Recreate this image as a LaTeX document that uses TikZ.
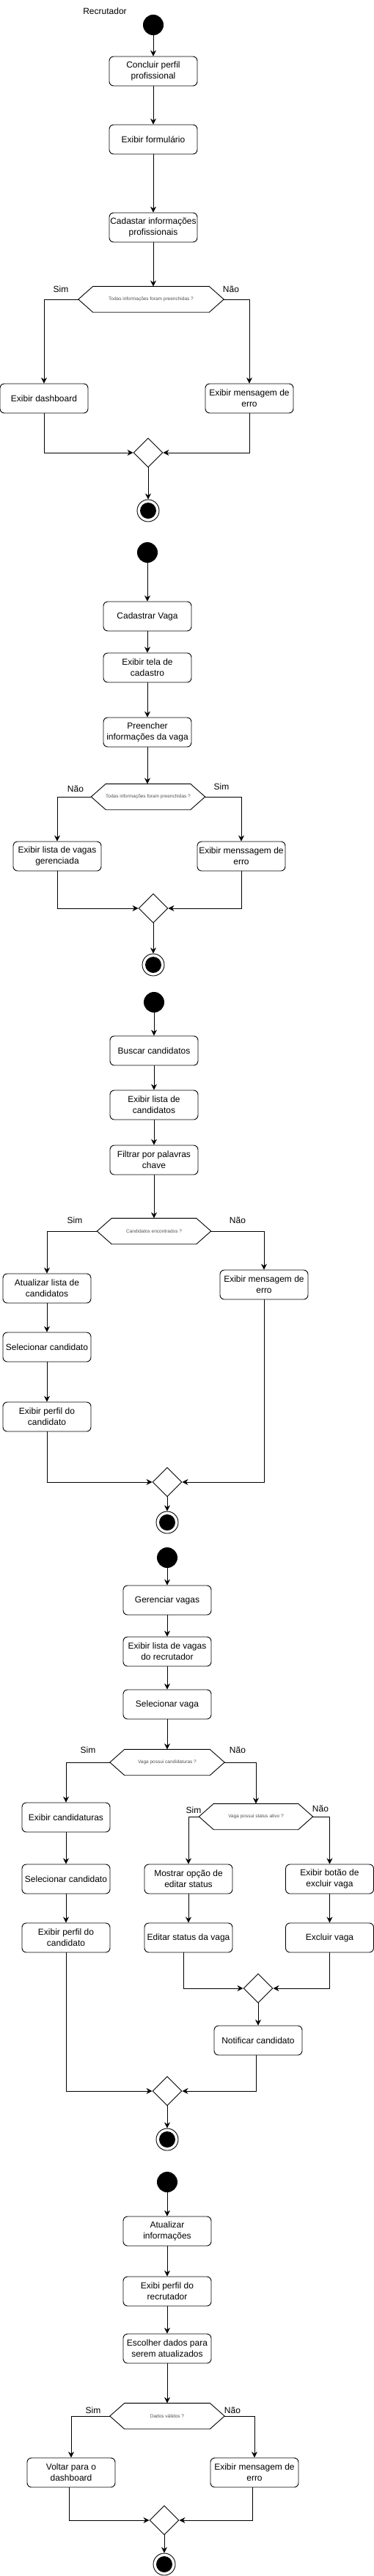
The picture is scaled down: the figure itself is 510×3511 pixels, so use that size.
\documentclass[tikz,border=0pt]{standalone}
\usepackage{fontspec}
\setmainfont{Liberation Sans}
\usetikzlibrary{shapes.geometric,arrows.meta}
\definecolor{hextext}{RGB}{80,80,80}
\newcommand\drawhexagon[1]{\draw[line width=0.9pt] (#1.west) -- ([xshift=20pt]#1.north west) -- ([xshift=-20pt]#1.north east) -- (#1.east) -- ([xshift=-20pt]#1.south east) -- ([xshift=20pt]#1.south west) -- cycle;}
\begin{document}
\begin{tikzpicture}[x=1pt,y=-1pt,
 box/.style={draw, rounded corners=6pt, minimum width=120pt, minimum height=40pt, align=center, inner sep=1pt, font=\fontsize{12}{15}\selectfont, line width=0.9pt},
 hexa/.style={minimum height=35pt, minimum width=#1, inner sep=0pt, font=\fontsize{6.5}{8}\selectfont, text=hextext},
 startst/.style={circle, fill=black, minimum size=28pt, inner sep=0pt},
 endst/.style={circle, draw, line width=0.9pt, minimum size=30pt, inner sep=0pt, path picture={\fill[black] (path picture bounding box.center) circle (11pt);}},
 merge/.style={diamond, draw, minimum width=40pt, minimum height=40pt, inner sep=0pt, line width=0.9pt},
 lbl/.style={font=\fontsize{12}{15}\selectfont, inner sep=0pt},
 arr/.style={-{Stealth[length=8pt,width=8pt]}, line width=0.9pt},
]
\useasboundingbox (0,0) rectangle (510,3511);

% ---------- Section 1 ----------
\node[lbl] (rec) at (143,15) {Recrutador};
\node[startst] (s1) at (209,34) {};
\node[box] (a1) at (209,97) {Concluir perfil\\profissional};
\node[box] (a2) at (209,190) {Exibir formulário};
\node[box] (a3) at (209,310) {Cadastar informações\\profissionais};
\node[hexa=198pt] (h1) at (206,408) {Todas informações foram preenchidas ?};
\drawhexagon{h1}
\node[lbl] (l1s) at (83,394) {Sim};
\node[lbl] (l1n) at (315,394) {Não};
\node[box] (b1) at (60,543) {Exibir dashboard};
\node[box] (b2) at (340,543) {Exibir mensagem de\\erro};
\node[merge] (d1) at (202,617) {};
\node[endst] (e1) at (202,696) {};
\draw[arr] (s1) -- (a1);
\draw[arr] (a1) -- (a2);
\draw[arr] (a2) -- (a3);
\draw[arr] (a3.south) -- (a3.south |- h1.north);
\draw[arr] (h1.west) -| (b1.north);
\draw[arr] (h1.east) -| (b2.north);
\draw[arr] (b1.south) |- (d1.west);
\draw[arr] (b2.south) |- (d1.east);
\draw[arr] (d1) -- (e1);

% ---------- Section 2 ----------
\node[startst] (s2) at (201,753) {};
\node[box] (c1) at (201,840) {Cadastrar Vaga};
\node[box] (c2) at (201,910) {Exibir tela de\\cadastro};
\node[box] (c3) at (201,998) {Preencher\\informações da vaga};
\node[hexa=155pt] (h2) at (202,1086) {Todas informações foram preenchidas ?};
\drawhexagon{h2}
\node[lbl] (l2n) at (103,1075) {Não};
\node[lbl] (l2s) at (302,1072) {Sim};
\node[box] (f1) at (78,1167) {Exibir lista de vagas\\gerenciada};
\node[box] (f2) at (329,1167) {Exibir menssagem de\\erro};
\node[merge] (d2) at (209,1238) {};
\node[endst] (e2) at (209,1315) {};
\draw[arr] (s2) -- (c1);
\draw[arr] (c1) -- (c2);
\draw[arr] (c2) -- (c3);
\draw[arr] (c3.south) -- (c3.south |- h2.north);
\draw[arr] (h2.west) -| (f1.north);
\draw[arr] (h2.east) -| (f2.north);
\draw[arr] (f1.south) |- (d2.west);
\draw[arr] (f2.south) |- (d2.east);
\draw[arr] (d2) -- (e2);

% ---------- Section 3 ----------
\node[startst] (s3) at (210,1366) {};
\node[box] (g1) at (210,1432) {Buscar candidatos};
\node[box] (g2) at (210,1506) {Exibir lista de\\candidatos};
\node[box] (g3) at (210,1581) {Filtrar por palavras\\chave};
\node[hexa=155pt] (h3) at (210,1678) {Candidatos encontrados ?};
\drawhexagon{h3}
\node[lbl] (l3s) at (102,1663) {Sim};
\node[lbl] (l3n) at (324,1663) {Não};
\node[box] (k1) at (64,1756) {Atualizar lista de\\candidatos};
\node[box] (k2) at (64,1836) {Selecionar candidato};
\node[box] (k3) at (64,1931) {Exibir perfil do\\candidato};
\node[box] (k4) at (360,1751) {Exibir mensagem de\\erro};
\node[merge] (d3) at (228,2020) {};
\node[endst] (e3) at (228,2075) {};
\draw[arr] (s3) -- (g1);
\draw[arr] (g1) -- (g2);
\draw[arr] (g2) -- (g3);
\draw[arr] (g3) -- (h3);
\draw[arr] (h3.west) -| (k1.north);
\draw[arr] (h3.east) -| (k4.north);
\draw[arr] (k1) -- (k2);
\draw[arr] (k2) -- (k3);
\draw[arr] (k3.south) |- (d3.west);
\draw[arr] (k4.south) |- (d3.east);
\draw[arr] (d3) -- (e3);

% ---------- Section 4 ----------
\node[startst] (s4) at (228,2123) {};
\node[box] (m1) at (228,2181) {Gerenciar vagas};
\node[box] (m2) at (228,2251) {Exibir lista de vagas\\do recrutador};
\node[box] (m3) at (228,2323) {Selecionar vaga};
\node[hexa=156pt] (h4) at (228,2402) {Vaga possui candidaturas ?};
\drawhexagon{h4}
\node[lbl] (l4s) at (120,2385) {Sim};
\node[lbl] (l4n) at (324,2385) {Não};
\node[box] (n1) at (90,2477) {Exibir candidaturas};
\node[box] (n2) at (90,2561) {Selecionar candidato};
\node[box] (n3) at (90,2641) {Exibir perfil do\\candidato};
\node[hexa=155pt] (h5) at (349,2476) {Vaga possui status ativo ?};
\drawhexagon{h5}
\node[lbl] (l5s) at (264,2467) {Sim};
\node[lbl] (l5n) at (437,2465) {Não};
\node[box] (p1) at (257,2561) {Mostrar opção de\\editar status};
\node[box] (p2) at (257,2641) {Editar status da vaga};
\node[box] (q1) at (449.5,2561) {Exibir botão de\\excluir vaga};
\node[box] (q2) at (449.5,2641) {Excluir vaga};
\node[merge] (d4) at (352,2710) {};
\node[box] (r1) at (352,2781) {Notificar candidato};
\node[merge] (d5) at (228,2850) {};
\node[endst] (e4) at (228,2916) {};
\draw[arr] (s4) -- (m1);
\draw[arr] (m1) -- (m2);
\draw[arr] (m2) -- (m3);
\draw[arr] (m3) -- (h4);
\draw[arr] (h4.west) -| (n1.north);
\draw[arr] (h4.east) -| (h5.north);
\draw[arr] (n1) -- (n2);
\draw[arr] (n2) -- (n3);
\draw[arr] (h5.west) -| (p1.north);
\draw[arr] (h5.east) -| (q1.north);
\draw[arr] (p1) -- (p2);
\draw[arr] (q1) -- (q2);
\draw[arr] ([xshift=-7pt]p2.south) |- (d4.west);
\draw[arr] (q2.south) |- (d4.east);
\draw[arr] (d4) -- (r1);
\draw[arr] ([xshift=-3pt]r1.south) |- (d5.east);
\draw[arr] (n3.south) |- (d5.west);
\draw[arr] (d5) -- (e4);

% ---------- Section 5 ----------
\node[startst] (s5) at (228,2974) {};
\node[box] (t1) at (228,3041) {Atualizar\\informações};
\node[box] (t2) at (228,3123) {Exibi perfil do\\recrutador};
\node[box] (t3) at (228,3201) {Escolher dados para\\serem atualizados};
\node[hexa=156pt] (h6) at (228,3293) {Dados válidos ?};
\drawhexagon{h6}
\node[lbl] (l6s) at (127,3285) {Sim};
\node[lbl] (l6n) at (317,3285) {Não};
\node[box] (u1) at (97,3370) {Voltar para o\\dashboard};
\node[box] (u2) at (347,3370) {Exibir mensagem de\\erro};
\node[merge] (d6) at (224,3435) {};
\node[endst] (e5) at (224,3495) {};
\draw[arr] (s5) -- (t1);
\draw[arr] (t1) -- (t2);
\draw[arr] (t2) -- (t3);
\draw[arr] (t3) -- (h6);
\draw[arr] (h6.west) -| (u1.north);
\draw[arr] (h6.east) -| (u2.north);
\draw[arr] ([xshift=-3pt]u1.south) |- (d6.west);
\draw[arr] ([xshift=-3pt]u2.south) |- (d6.east);
\draw[arr] (d6) -- (e5);
\end{tikzpicture}
\end{document}
